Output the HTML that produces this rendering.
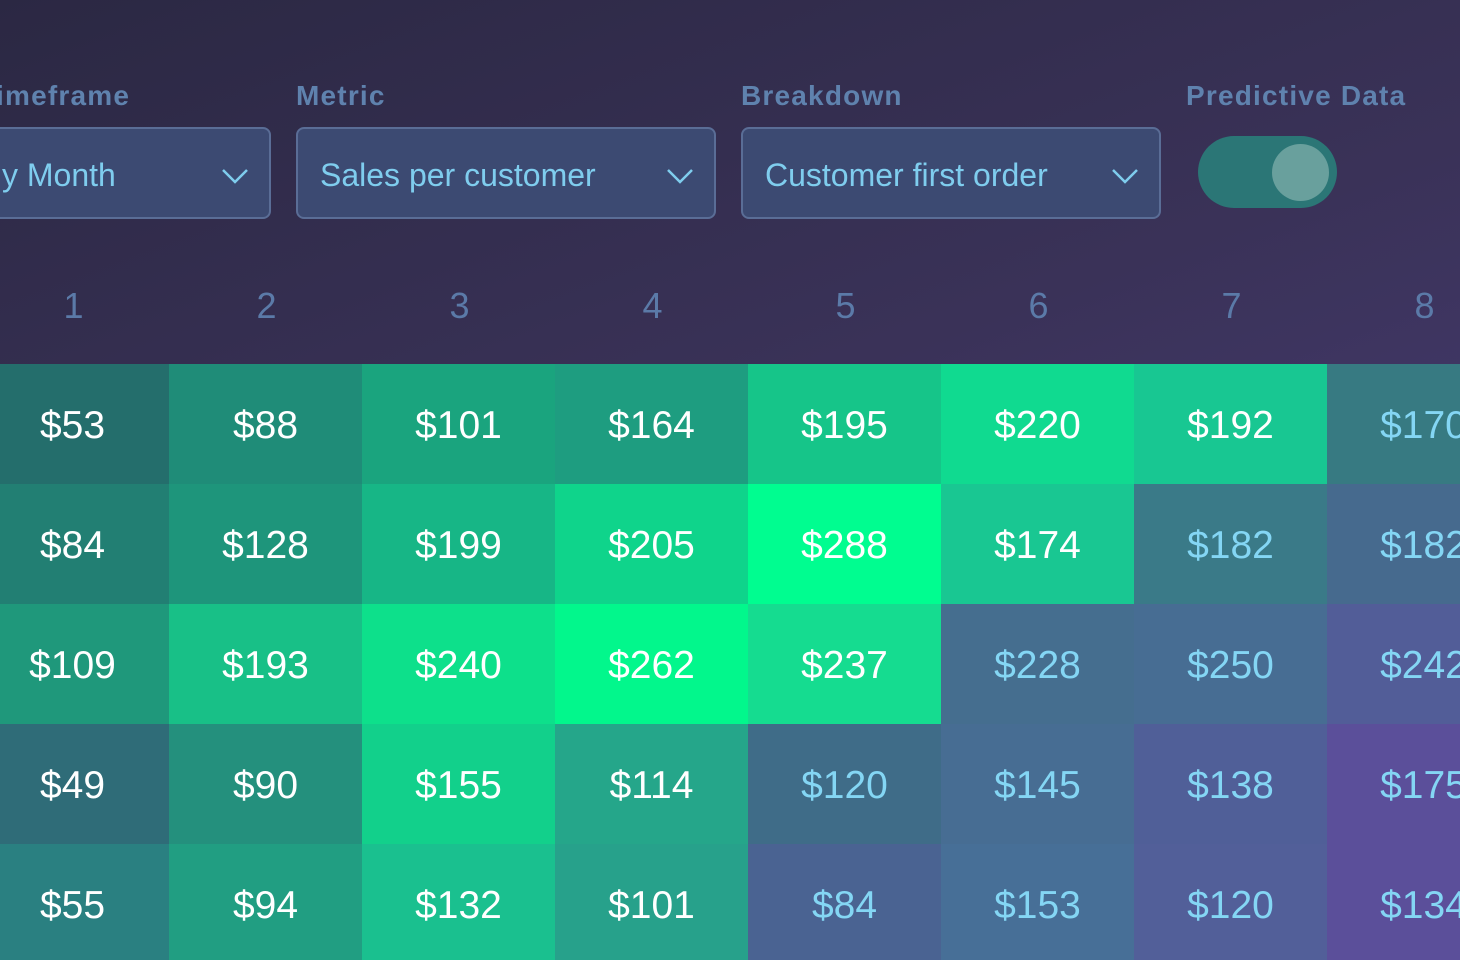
<!DOCTYPE html>
<html><head><meta charset="utf-8">
<style>
html,body{margin:0;padding:0;width:1460px;height:960px;overflow:hidden;}
body{background:linear-gradient(160deg,#2b2843 0%,#3a3258 45%,#4b3f7e 100%);font-family:"Liberation Sans",sans-serif;position:relative;}
.lbl{position:absolute;top:80px;font-size:28px;font-weight:bold;color:#5f82ae;letter-spacing:1.2px;}
.dd{position:absolute;top:127px;height:92px;box-sizing:border-box;border:2px solid #5a6d96;border-radius:8px;background:#3c4a72;color:#7fcdee;font-size:32px;line-height:92px;padding-left:22px;}
.dd svg{position:absolute;right:20px;top:38px;}
#toggle{position:absolute;left:1198px;top:136px;width:139px;height:72px;border-radius:36px;background:#2b7676;}
#knob{position:absolute;left:1272px;top:144px;width:57px;height:57px;border-radius:50%;background:#69a09d;}
svg#hm{position:absolute;left:0;top:0;}
</style></head><body>
<div class="lbl" style="left:-4px">imeframe</div>
<div class="lbl" style="left:296px">Metric</div>
<div class="lbl" style="left:741px">Breakdown</div>
<div class="lbl" style="left:1186px">Predictive Data</div>
<div class="dd" style="left:-30px;width:301px;padding-left:30px">y Month<svg width="28" height="18"><path d="M2 3 L14 15 L26 3" fill="none" stroke="#7fcdee" stroke-width="2.5"/></svg></div>
<div class="dd" style="left:296px;width:420px">Sales per customer<svg width="28" height="18"><path d="M2 3 L14 15 L26 3" fill="none" stroke="#7fcdee" stroke-width="2.5"/></svg></div>
<div class="dd" style="left:741px;width:420px">Customer first order<svg width="28" height="18"><path d="M2 3 L14 15 L26 3" fill="none" stroke="#7fcdee" stroke-width="2.5"/></svg></div>
<div id="toggle"></div>
<div id="knob"></div>
<svg id="hm" width="1460" height="960"></svg>
<script>
const periods = ["1","2","3","4","5","6","7","8"];
const values = [
 [53,88,101,164,195,220,192,170],
 [84,128,199,205,288,174,182,182],
 [109,193,240,262,237,228,250,242],
 [49,90,155,114,120,145,138,175],
 [55,94,132,101,84,153,120,134]
];
const predictive = [
 [0,0,0,0,0,0,0,1],
 [0,0,0,0,0,0,1,1],
 [0,0,0,0,0,1,1,1],
 [0,0,0,0,1,1,1,1],
 [0,0,0,0,1,1,1,1]
];
const cellColors = [
 ["#246e6c","#1f8c78","#1aa47e","#1e9d80","#16c589","#10da90","#18c792","#377a82"],
 ["#227f73","#1e957b","#17b686","#0fd48b","#00fd90","#19c792","#3a7a88","#466a8e"],
 ["#1f987b","#18c087","#0de08b","#02f78c","#15dc90","#456e8f","#476d93","#525d98"],
 ["#2f6c78","#24907d","#12d08b","#25a68a","#3f6c88","#476d93","#505f98","#5b4f9a"],
 ["#2a8081","#219e82","#1ac08f","#27a18b","#4a6392","#476f97","#525f99","#5b4f9a"]
];
const NS="http://www.w3.org/2000/svg";
const svg=document.getElementById('hm');
const colX=i=>-24+i*193, colW=193, rowY=j=>364+j*120, rowH=120;
periods.forEach((p,i)=>{
 const t=document.createElementNS(NS,'text');
 
 
 t.setAttribute('x',colX(i)+colW/2+1);t.setAttribute('y',318);
 t.setAttribute('text-anchor','middle');t.setAttribute('font-size','36');
 t.setAttribute('fill','#5b7aa8');t.textContent=p;svg.appendChild(t);
});
values.forEach((row,j)=>row.forEach((v,i)=>{
 const r=document.createElementNS(NS,'rect');
 
 
 r.setAttribute('x',colX(i));r.setAttribute('y',rowY(j));
 r.setAttribute('width',colW+0.5);r.setAttribute('height',rowH+0.5);
 r.setAttribute('fill',cellColors[j][i]);svg.appendChild(r);
 const t=document.createElementNS(NS,'text');
 
 
 t.setAttribute('x',colX(i)+colW/2);t.setAttribute('y',rowY(j)+74);
 t.setAttribute('text-anchor','middle');t.setAttribute('font-size','39');
 t.setAttribute('fill',predictive[j][i]?'#84d6f4':'#ffffff');
 t.textContent='$'+v;svg.appendChild(t);
}));
</script>
</body></html>
